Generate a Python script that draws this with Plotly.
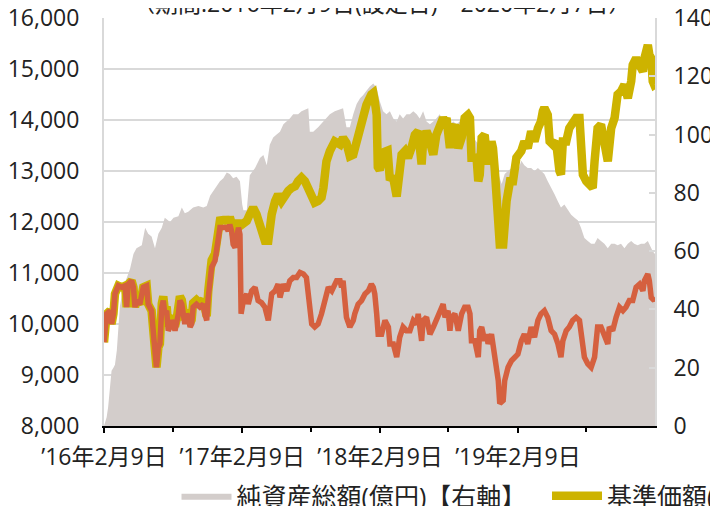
import pandas as pd
import plotly.graph_objects as go

# ---------------- data ----------------
launch = pd.Timestamp("2016-02-09")   # 設定日
end = pd.Timestamp("2020-02-07")

# 純資産総額(億円)  (elapsed days since 設定日, value)
aum_days = [0, 7, 11, 16, 20, 25, 29, 34, 38, 42, 51, 60, 69, 78, 86, 100, 109, 117, 126, 135,
            144, 153, 161, 175, 184, 197, 206, 214, 223, 236, 250, 263, 272, 281, 289, 298, 307, 316, 325, 333,
            342, 351, 360,
            366, 369, 378, 386, 400, 413, 422, 431, 439, 448, 457, 466, 475, 483, 492, 501, 514, 523, 532, 541,
            545, 554, 567, 581, 589, 598, 611, 625, 633, 642, 651, 660, 669, 678, 686, 695, 704, 713, 722, 730,
            739, 748, 757, 766, 775, 783, 792, 801, 810, 819, 828, 836, 845, 854, 863, 872, 880, 889, 898, 907,
            916, 925, 933, 942, 951, 960, 969, 978, 986, 995, 1004, 1013, 1022, 1030, 1039, 1048, 1053, 1061, 1070, 1079,
            1088,
            1096, 1105, 1113, 1122, 1131, 1140, 1149, 1157, 1166, 1175, 1184, 1193, 1202, 1210, 1219, 1228, 1237, 1246, 1255, 1263,
            1272, 1281, 1290, 1299, 1307, 1316, 1325, 1334, 1343, 1352, 1360, 1369, 1378, 1387, 1396, 1404, 1413, 1422, 1431, 1440,
            1449, 1453, 1459]
aum_vals = [0, 3, 6.5, 13, 19, 20, 21, 26, 33, 41, 47.5, 51, 54, 59, 61, 62, 68, 66, 65, 61,
            66, 68, 71.5, 70, 71.5, 72, 75, 73, 73.5, 75, 75.5, 75, 75.5, 79, 80.5, 82, 84, 85, 87, 86.5,
            85, 85.5, 84,
            76, 74, 74, 86, 88.5, 92, 93, 89.5, 96.5, 99, 100, 101, 103.5, 104.5, 105.5, 107, 107, 108, 108.5, 109,
            101, 101, 102.5, 104.5, 105.5, 107, 108, 108.5, 109, 102.5, 102.5, 107, 110.5, 112.5, 113.5, 115, 116.5, 117.5, 116, 111.5,
            108, 107, 108, 105.5, 104.5, 107, 105.5, 107, 107, 108, 107, 105.5, 108, 104.5, 103.5, 104.5, 105.5, 107, 104.5, 105.5,
            103.5, 104.5, 103.5, 104.5, 105.5, 107, 102.5, 99, 97.5, 96.5, 97.5, 95.5, 93, 91, 88.5, 85, 83, 86.5, 87.5, 88.5,
            89.5,
            87.5, 91, 89.5, 88.5, 88.5, 87.5, 88.5, 87.5, 86.5, 84, 82, 79.5, 77, 75, 76, 74, 72.5, 71.5, 70.5, 68,
            64.5, 63.5, 62.5, 62.5, 64.5, 63.5, 62.5, 61, 62.5, 62.5, 62, 62.5, 61, 62.5, 63.5, 62.5, 62, 62.5, 62.5, 63.5,
            61, 60, 59]

# 基準価額(分配金再投資)
reinv_days = [0, 7, 16, 20, 25, 29, 38, 47, 56, 60, 64, 73, 78, 82, 86, 95, 104, 113, 117, 126,
              131, 135, 139, 144, 148, 153, 157, 161, 166, 170, 175, 179, 184, 188, 192, 197, 201, 206, 210, 214,
              219, 223, 228, 232, 236, 245, 254, 263, 267, 272, 276, 281, 285, 294, 298, 303, 307, 316, 325, 329,
              333, 338, 342, 347, 351, 356, 360,
              369, 378, 386, 395, 404, 413, 417, 426, 435, 439, 444, 453, 461, 470, 479, 488, 497, 506, 514, 523,
              532, 541, 550, 558, 567, 576, 581, 589, 598, 611, 625, 633, 642, 651, 660, 669, 678, 686, 695, 708,
              713, 717, 722, 725,
              730, 741, 751, 757, 765, 775, 783, 788, 797, 805, 814, 823, 832, 836, 841, 845, 854, 858, 867, 872,
              880, 889, 898, 903, 907, 916, 920, 929, 938, 947, 955, 964, 969, 973, 982, 986, 991, 995, 1000, 1008,
              1013, 1017, 1026, 1030, 1035, 1039, 1044, 1048, 1057, 1061, 1066, 1075, 1083, 1092,
              1105, 1113, 1122, 1131, 1140, 1149, 1157, 1162, 1166, 1175, 1180, 1188, 1197, 1206, 1210, 1215, 1224, 1232, 1241, 1250,
              1259, 1263, 1268, 1277, 1285, 1294, 1299, 1307, 1316, 1325, 1334, 1343, 1352, 1360, 1369, 1378, 1387, 1396, 1400, 1409,
              1418, 1427, 1431, 1435, 1440, 1444, 1449, 1453, 1457, 1459]
reinv_vals = [9640, 10200, 10260, 10000, 10200, 10590, 10750, 10720, 10750, 10330, 10780, 10850, 10720, 10330, 10460, 10390, 10720, 10750, 10390, 10260,
              9800, 9540, 9150, 9540, 9610, 10400, 10540, 10280, 10340, 9950, 10020, 10150, 10080, 9950, 10080, 10280, 10540, 10470, 10280, 10080,
              10280, 10210, 10020, 10080, 10410, 10470, 10410, 10470, 10280, 10150, 10640, 10980, 11250, 11380, 11640, 11900, 12030, 12040, 12040, 11980,
              12100, 11980, 11720, 11650, 11780, 12040, 11920,
              11960, 12020, 12150, 12280, 12150, 11950, 11820, 11630, 11630, 11890, 12150, 12410, 12540, 12410, 12540, 12610, 12670, 12700, 12800, 12870,
              12800, 12670, 12540, 12380, 12410, 12480, 12670, 13190, 13390, 13580, 13520, 13650, 13550, 13290, 13320, 13580, 13910, 14100, 14300, 14500,
              14530, 14370, 14100, 13080,
              13020, 13370, 13400, 12820, 12900, 12500, 13190, 13320, 13390, 13260, 13450, 13710, 13780, 13580, 13130, 13580, 13780, 13710, 13320, 13320,
              13710, 13910, 14040, 13970, 14040, 13450, 13780, 13910, 13450, 13650, 14040, 14100, 14040, 13260, 13260, 13320, 12800, 12930, 13650, 13710,
              13320, 13130, 13580, 13450, 13000, 12610, 12150, 11560, 11560, 12280, 12410, 12800, 12800, 13260,
              13390, 13580, 13450, 13780, 13580, 13840, 13970, 14170, 14240, 14100, 13580, 13520, 13580, 13000, 12930, 13580, 13580, 13840, 13970, 14040,
              14040, 13710, 12930, 12800, 12740, 12670, 13190, 13840, 13910, 13450, 13190, 13840, 14040, 14500, 14560, 14690, 14430, 14760, 15080, 15210,
              15020, 14950, 15210, 15410, 15470, 15280, 15210, 14760, 14690, 14700]

# 基準価額
nav_days = [0, 7, 16, 20, 25, 29, 38, 47, 56, 60, 64, 73, 78, 82, 86, 95, 104, 113, 117, 126,
            131, 135, 139, 144, 148, 153, 157, 161, 166, 170, 175, 179, 184, 188, 192, 197, 201, 206, 210, 214,
            219, 223, 228, 232, 236, 245, 254, 263, 267, 272, 276, 281, 285, 294, 298, 303, 307, 316, 325, 329,
            333, 338, 342, 347, 351, 356, 360,
            363, 369, 378, 382, 391, 400, 408, 417, 426, 435, 444, 453, 461, 466, 475, 484, 492, 501, 510, 519,
            528, 536, 541, 545, 550, 558, 567, 576, 585, 594, 603, 611, 616, 625, 629, 633, 638, 642, 651, 660,
            664, 673, 682, 691, 700, 708, 713, 717, 722, 726, 735,
            744, 753, 757, 766, 775, 779, 783, 792, 801, 810, 819, 828, 832, 841, 845, 854, 863, 872, 880, 889,
            898, 903, 911, 916, 920, 929, 938, 947, 955, 964, 969, 973, 982, 991, 995, 1000, 1008, 1013, 1017, 1026,
            1035, 1044, 1048, 1057, 1061, 1070, 1079, 1088,
            1096, 1105, 1113, 1122, 1131, 1140, 1149, 1157, 1166, 1175, 1184, 1193, 1202, 1210, 1215, 1224, 1232, 1241, 1250, 1259,
            1263, 1272, 1281, 1290, 1299, 1307, 1316, 1325, 1334, 1338, 1347, 1356, 1365, 1374, 1382, 1391, 1400, 1409, 1418, 1427,
            1431, 1440, 1444, 1449, 1457, 1459]
nav_vals = [9640, 10200, 10260, 10000, 10200, 10590, 10750, 10720, 10750, 10330, 10780, 10850, 10720, 10330, 10460, 10390, 10720, 10750, 10390, 10260,
            9800, 9540, 9150, 9540, 9610, 10330, 10460, 10200, 10260, 9870, 9940, 10070, 10000, 9870, 10000, 10200, 10460, 10390, 10200, 10000,
            10200, 10130, 9940, 10000, 10330, 10390, 10330, 10390, 10200, 10070, 10520, 10850, 11110, 11240, 11500, 11760, 11890, 11890, 11890, 11820,
            11950, 11820, 11560, 11500, 11630, 11890, 11760,
            10200, 10460, 10590, 10390, 10650, 10720, 10460, 10420, 10330, 10070, 10590, 10650, 10780, 10520, 10780, 10650, 10850, 10910, 10910, 11010,
            10980, 10910, 10590, 10200, 10000, 9940, 10000, 10200, 10520, 10720, 10650, 10780, 10850, 10850, 10720, 10850, 10390, 10130, 9940, 10070,
            10200, 10390, 10460, 10590, 10650, 10780, 10720, 10590, 10200, 9800, 9800,
            10070, 9940, 9610, 9610, 9350, 9540, 9740, 9940, 9870, 9870, 10070, 10000, 10200, 9670, 10070, 10130, 9800, 9940, 10070, 10200,
            10390, 10130, 10260, 9870, 10130, 10200, 9870, 10200, 10330, 10330, 10200, 9670, 9670, 9350, 9870, 9940, 9670, 9800, 9610, 9800,
            9280, 8890, 8440, 8500, 8890, 9150, 9280, 9350,
            9410, 9670, 9800, 9610, 9940, 9740, 10070, 10200, 10260, 10130, 9870, 9800, 9610, 9350, 9670, 9870, 9940, 10070, 10130, 10070,
            9800, 9350, 9220, 9150, 9350, 9940, 9940, 9800, 9610, 9940, 9870, 10130, 10330, 10260, 10330, 10460, 10460, 10720, 10780, 10650,
            10850, 10980, 10850, 10520, 10460, 10520]

tick_dates = ["2016-02-09", "2017-02-09", "2018-02-09", "2019-02-09"]
tick_labels = ["’16年2月9日", "’17年2月9日", "’18年2月9日", "’19年2月9日"]
minor_dates = ["2016-08-09", "2017-08-09", "2018-08-09", "2019-08-09"]

title_text = "（期間:2016年2月9日(設定日)～2020年2月7日）"


def to_dates(days):
    return launch + pd.to_timedelta(days, unit="D")


FONT = "Open Sans, Noto Sans CJK JP"
TXT = "#222222"
GRID = "#D9D9D9"
GREY = "#D3CDCB"
YELLOW = "#CDB300"
ORANGE = "#D5603F"

fig = go.Figure()
fig.add_trace(go.Scatter(
    x=to_dates(aum_days), y=aum_vals, name="純資産総額(億円)【右軸】",
    mode="lines", line=dict(width=0, color=GREY), fill="tozeroy", fillcolor=GREY,
    yaxis="y", legend="legend", hoverinfo="skip"))
fig.add_trace(go.Scatter(
    x=to_dates(reinv_days), y=reinv_vals, name="基準価額(分配金再投資)",
    mode="lines", line=dict(width=8.5, color=YELLOW), yaxis="y2", legend="legend2"))
fig.add_trace(go.Scatter(
    x=to_dates(nav_days), y=nav_vals, name="基準価額",
    mode="lines", line=dict(width=5.5, color=ORANGE), yaxis="y2", legend="legend3"))

fig.add_annotation(text=title_text, xref="paper", yref="paper", x=0.5045, y=1.0368,
                   xanchor="center", yanchor="middle", showarrow=False,
                   font=dict(family=FONT, size=23, color=TXT))

legend_common = dict(orientation="h", yanchor="middle", xanchor="left", y=-0.1716,
                     bgcolor="rgba(0,0,0,0)", font=dict(family=FONT, size=25, color=TXT),
                     itemwidth=50)

fig.update_layout(
    width=710, height=498,
    margin=dict(l=96, r=63, t=10, b=80, autoexpand=False),
    paper_bgcolor="white", plot_bgcolor="white",
    font=dict(family=FONT, size=23, color=TXT),
    showlegend=True,
    xaxis=dict(type="date", range=[launch, end], showgrid=False, zeroline=False,
               showline=True, linecolor="black", linewidth=2,
               ticks="outside", ticklen=5, tickwidth=1.5, tickcolor="black",
               tickmode="array", tickvals=tick_dates, ticktext=tick_labels,
               minor=dict(tickmode="array", tickvals=minor_dates, ticks="outside",
                          ticklen=4, tickwidth=1.5, tickcolor="black"),
               ticklabelstandoff=4, ticklabeloverflow="allow",
               tickfont=dict(family=FONT, size=23, color=TXT)),
    yaxis=dict(range=[0, 140], dtick=20, tick0=0, side="right", showgrid=False, zeroline=False,
               showline=True, linecolor=GRID, linewidth=2,
               ticks="inside", ticklen=6, tickcolor=GRID, tickwidth=1.5,
               ticklabelstandoff=12, ticklabeloverflow="allow",
               tickfont=dict(family=FONT, size=23, color=TXT)),
    yaxis2=dict(range=[8000, 16000], dtick=1000, tick0=8000, tickformat=",", overlaying="y", side="left",
                showgrid=True, gridcolor=GRID, gridwidth=1.5, zeroline=False,
                showline=True, linecolor=GRID, linewidth=2, ticks="",
                ticklabelstandoff=18, ticklabeloverflow="allow",
                tickfont=dict(family=FONT, size=23, color=TXT)),
    legend=dict(legend_common, x=0.1316),
    legend2=dict(legend_common, x=0.804),
    legend3=dict(legend_common, x=1.60),
)

fig.write_html("out.html")
